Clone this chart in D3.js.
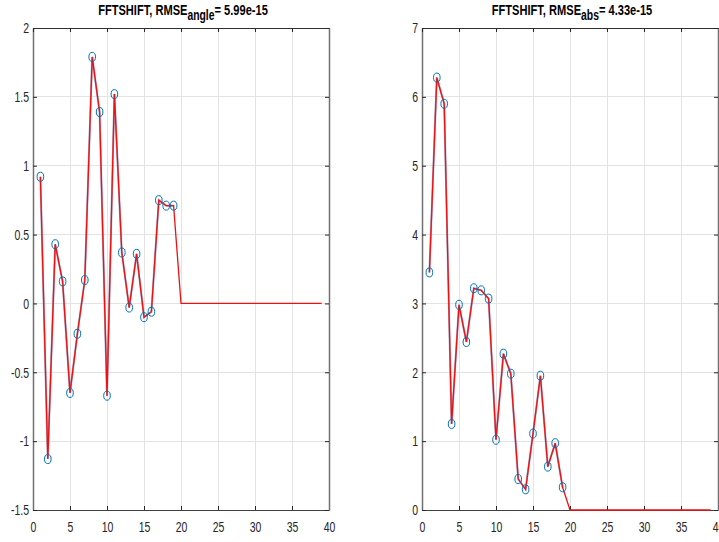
<!DOCTYPE html>
<html><head><meta charset="utf-8">
<script src="https://cdn.jsdelivr.net/npm/d3@7/dist/d3.min.js"></script>
<style>
html,body{margin:0;padding:0;background:#fff;}
svg{display:block;}
text{font-family:"Liberation Sans",Arial,sans-serif;}
</style></head><body>
<svg id="chart" width="719" height="542"></svg>
<script>
const angleValues = [0.92,-1.13,0.43,0.16,-0.65,-0.22,0.17,1.79,1.39,-0.67,1.52,0.37,-0.03,0.36,-0.10,-0.06,0.75,0.71,0.71,
  0,0,0,0,0,0,0,0,0,0,0,0,0,0,0,0,0,0,0,0,0];
const absValues = [3.45,6.28,5.90,1.25,2.98,2.44,3.22,3.19,3.07,1.02,2.27,1.98,0.45,0.30,1.11,1.95,0.63,0.97,0.33,
  0,0,0,0,0,0,0,0,0,0,0,0,0,0,0,0,0,0,0,0,0];
const markedCount = 19;
const xTicks = [0,5,10,15,20,25,30,35,40];
const angleTicks = [-1.5,-1,-0.5,0,0.5,1,1.5,2];
const absTicks = [0,1,2,3,4,5,6,7];
const titles = [
  {main:"FFTSHIFT, RMSE", sub:"angle", rest:"= 5.99e-15"},
  {main:"FFTSHIFT, RMSE", sub:"abs", rest:"= 4.33e-15"}
];

const svg = d3.select("#chart");
const panels = [
  {x0:33, x1:329, yDomain:[-1.5,2], yTicks:angleTicks, values:angleValues, title:titles[0]},
  {x0:422, x1:718, yDomain:[0,7], yTicks:absTicks, values:absValues, title:titles[1]}
];
const plotTop = 28, plotBottom = 510;
const axisColor = "#262626", gridColor = "#e3e3e3";
const squeeze = 0.7;

panels.forEach(p => {
  const data = p.values.slice(0, 39).map((v,i)=>({x:i+1, y:v}));
  const x = d3.scaleLinear().domain([0,40]).range([p.x0, p.x1]);
  const y = d3.scaleLinear().domain(p.yDomain).range([plotBottom, plotTop]);
  const g = svg.append("g");

  g.selectAll(".gx").data(xTicks).enter().append("line")
    .attr("x1", d=>x(d)).attr("x2", d=>x(d)).attr("y1", plotTop).attr("y2", plotBottom)
    .attr("stroke", gridColor).attr("stroke-width", 1).attr("shape-rendering","crispEdges");
  g.selectAll(".gy").data(p.yTicks).enter().append("line")
    .attr("x1", p.x0).attr("x2", p.x1).attr("y1", d=>y(d)).attr("y2", d=>y(d))
    .attr("stroke", gridColor).attr("stroke-width", 1).attr("shape-rendering","crispEdges");

  const bottomAxis = d3.axisBottom(x).tickValues(xTicks).tickFormat(d3.format("d")).tickSizeInner(-4).tickSizeOuter(0).tickPadding(11);
  const leftAxis = d3.axisLeft(y).tickValues(p.yTicks).tickFormat(d=>String(d)).tickSizeInner(-4).tickSizeOuter(0).tickPadding(4);
  const topAxis = d3.axisTop(x).tickValues(xTicks).tickFormat("").tickSizeInner(-4).tickSizeOuter(0);
  const rightAxis = d3.axisRight(y).tickValues(p.yTicks).tickFormat("").tickSizeInner(-4).tickSizeOuter(0);
  const axes = [
    [bottomAxis,`translate(0,${plotBottom})`,"#404040"],
    [leftAxis,`translate(${p.x0},0)`,"#707070"],
    [topAxis,`translate(0,${plotTop})`,"#303030"],
    [rightAxis,`translate(${p.x1},0)`,"#707070"]
  ];
  axes.forEach(([ax,tr,col],k)=>{
    const a = g.append("g").attr("transform", tr).call(ax);
    a.select(".domain").attr("stroke", col).attr("stroke-width", k%2 ? 1.5 : 1.2);
    a.selectAll(".tick line").attr("stroke", axisColor);
    a.selectAll("text").attr("fill", axisColor).style("font-size","15px")
      .style("font-family","'Liberation Sans',Arial,sans-serif");
    if (k===0) a.selectAll("text").attr("transform", `scale(${squeeze},1)`);
    if (k===1) a.selectAll("text").attr("x", -4/squeeze).attr("transform", `scale(${squeeze},1)`);
  });

  const line = d3.line().x(d=>x(d.x)).y(d=>y(d.y));
  g.append("path").datum(data.slice(0, markedCount))
    .attr("d", line).attr("fill","none").attr("stroke","#7a5a8a").attr("stroke-width",2).attr("stroke-opacity",0.6);
  g.append("path").datum(data)
    .attr("d", line).attr("fill","none").attr("stroke","#ee1111").attr("stroke-width",1.3);

  g.selectAll(".m").data(data.slice(0, markedCount)).enter().append("ellipse")
    .attr("cx", d=>x(d.x)).attr("cy", d=>y(d.y)).attr("rx",3.3).attr("ry",4.5)
    .attr("fill","none").attr("stroke","#0072BD").attr("stroke-width",1);

  const cx = (p.x0 + p.x1)/2 + 2;
  const t = g.append("text").attr("x", 0).attr("y", 15).attr("text-anchor","middle")
    .attr("transform", `translate(${cx},0) scale(0.74,1)`)
    .attr("fill","#000").style("font-weight","bold").style("font-size","15px");
  t.append("tspan").text(p.title.main);
  t.append("tspan").attr("dy",5).style("font-size","14px").text(p.title.sub);
  t.append("tspan").attr("dy",-5).text(p.title.rest);
});
</script>
</body></html>
